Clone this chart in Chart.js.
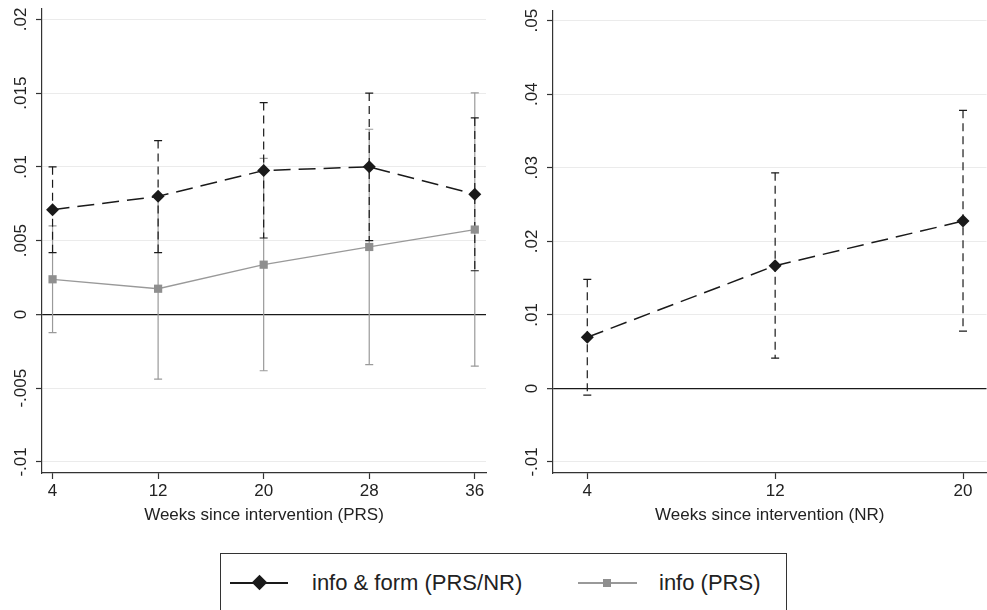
<!DOCTYPE html>
<html>
<head>
<meta charset="utf-8">
<script src="https://cdn.jsdelivr.net/npm/chart.js@4.4.0/dist/chart.umd.min.js"></script>
<style>
  body { margin: 0; background: #fff; font-family: "Liberation Sans", Arial, sans-serif; }
  #wrap { position: relative; width: 987px; height: 610px; overflow: hidden; }
  .panel { position: absolute; top: 0; height: 540px; }
  #legend { position: absolute; left: 220px; top: 553px; width: 565px; height: 70px; border: 1px solid #333; }
  .lg-line { position: absolute; height: 0; }
  .lg-text { position: absolute; font-size: 22px; color: #222; line-height: 22px; }
</style>
</head>
<body>
<div id="wrap">
  <div class="panel" style="left:0; width:495px;"><canvas id="prs"></canvas></div>
  <div class="panel" style="left:511px; width:482px;"><canvas id="nr"></canvas></div>
  <div id="legend">
    <div class="lg-line" style="left:9px; top:28px; width:58px; border-top:2px solid #1a1a1a;"></div>
    <div style="position:absolute; left:33px; top:23px; width:11px; height:11px; background:#1a1a1a; transform:rotate(45deg);"></div>
    <div class="lg-text" style="left:91px; top:18px;">info &amp; form (PRS/NR)</div>
    <div class="lg-line" style="left:357px; top:28px; width:59px; border-top:2px solid #999;"></div>
    <div style="position:absolute; left:382px; top:25px; width:8px; height:8px; background:#8f8f8f;"></div>
    <div class="lg-text" style="left:438px; top:18px;">info (PRS)</div>
  </div>
</div>
<script>
// left panel: weeks since intervention (PRS)
const weeksPRS = [4, 12, 20, 28, 36];
const infoForm = [0.0071, 0.0080, 0.00975, 0.0100, 0.00814];
const infoFormLo = [0.00419, 0.00419, 0.00518, 0.0050, 0.00296];
const infoFormHi = [0.0100, 0.01178, 0.01436, 0.0150, 0.01332];
const infoOnly = [0.00238, 0.00174, 0.00337, 0.00457, 0.00575];
const infoOnlyLo = [-0.00124, -0.00439, -0.00382, -0.0034, -0.00351];
const infoOnlyHi = [0.0060, 0.00787, 0.01057, 0.01255, 0.01502];
const yTicksPRS = [-0.01, -0.005, 0, 0.005, 0.01, 0.015, 0.02];
const yLabelsPRS = ['-.01', '-.005', '0', '.005', '.01', '.015', '.02'];

// right panel: weeks since intervention (NR)
const weeksNR = [4, 12, 20];
const nrInfoForm = [0.00696, 0.01669, 0.02275];
const nrInfoFormLo = [-0.00091, 0.00411, 0.00778];
const nrInfoFormHi = [0.01483, 0.02931, 0.03782];
const yTicksNR = [-0.01, 0, 0.01, 0.02, 0.03, 0.04, 0.05];
const yLabelsNR = ['-.01', '0', '.01', '.02', '.03', '.04', '.05'];

const BLACK = '#1a1a1a';
const GREY = '#8f8f8f';
const FONT = 'Liberation Sans, Arial, sans-serif';

// draws the confidence interval caps under the lines
const errorBars = {
    id: 'errorBars',
    beforeDatasetsDraw(chart) {
        const ctx = chart.ctx;
        const xs = chart.scales.x, ys = chart.scales.y;
        // grey bars first, black dashed ones on top
        const sets = chart.data.datasets.slice().sort((a, b) => a.order - b.order);
        sets.forEach(ds => {
            ctx.save();
            ctx.strokeStyle = ds.ciColor;
            ctx.lineWidth = 1.2;
            ds.data.forEach((p, i) => {
                const x = xs.getPixelForValue(p.x);
                const yLo = ys.getPixelForValue(ds.ciLo[i]);
                const yHi = ys.getPixelForValue(ds.ciHi[i]);
                ctx.setLineDash(ds.ciDash);
                ctx.beginPath();
                ctx.moveTo(x, yHi);
                ctx.lineTo(x, yLo);
                ctx.stroke();
                ctx.setLineDash([]);
                ctx.beginPath();
                ctx.moveTo(x - 4, yHi);
                ctx.lineTo(x + 4, yHi);
                ctx.moveTo(x - 4, yLo);
                ctx.lineTo(x + 4, yLo);
                ctx.stroke();
            });
            ctx.restore();
        });
    }
};

function buildChart(canvasId, opts) {
    const tickList = opts.yTicks.map(v => ({ value: v }));
    return new Chart(document.getElementById(canvasId), {
        type: 'line',
        data: { datasets: opts.datasets },
        options: {
            responsive: true,
            maintainAspectRatio: false,
            animation: false,
            layout: { padding: { top: 9, right: opts.padRight, left: 0, bottom: 0 } },
            plugins: { legend: { display: false }, tooltip: { enabled: false } },
            scales: {
                x: {
                    type: 'linear',
                    min: opts.xMin,
                    max: opts.xMax,
                    afterBuildTicks: s => { s.ticks = opts.xTicks.map(v => ({ value: v })); },
                    afterFit: s => { s.height = 67; },
                    ticks: {
                        color: '#222',
                        font: { family: FONT, size: 17 },
                        padding: 2,
                        maxRotation: 0,
                        callback: v => String(v)
                    },
                    grid: { drawOnChartArea: false, drawTicks: true, tickLength: 6, tickColor: '#333', tickWidth: 1.2 },
                    border: { display: true, color: '#333', width: 1.2 },
                    title: {
                        display: true,
                        text: opts.xTitle,
                        color: '#222',
                        font: { family: FONT, size: 17 },
                        padding: { top: 0, bottom: 14 }
                    }
                },
                y: {
                    type: 'linear',
                    min: opts.yMin,
                    max: opts.yMax,
                    afterBuildTicks: s => { s.ticks = tickList.slice(); },
                    afterFit: s => { s.width = 42; },
                    ticks: {
                        color: '#222',
                        font: { family: FONT, size: 17 },
                        minRotation: 90,
                        maxRotation: 90,
                        crossAlign: 'center',
                        padding: opts.yPad,
                        callback: v => opts.yLabels[opts.yTicks.indexOf(v)]
                    },
                    grid: {
                        color: c => (c.tick && c.tick.value === 0) ? BLACK : '#ebebeb',
                        lineWidth: c => (c.tick && c.tick.value === 0) ? 1.3 : 1,
                        drawTicks: true,
                        tickLength: 6,
                        tickColor: '#333',
                        tickWidth: 1.2
                    },
                    border: { display: true, color: '#333', width: 1.2 }
                }
            }
        },
        plugins: [errorBars]
    });
}

function pts(xs, ys) {
    return xs.map((x, i) => ({ x: x, y: ys[i] }));
}

function blackSeries(xs, ys, lo, hi) {
    return {
        label: 'info & form (PRS/NR)',
        data: pts(xs, ys),
        borderColor: BLACK,
        borderWidth: 1.5,
        borderDash: [17, 8],
        pointStyle: 'rectRot',
        pointRadius: 6.5,
        pointBackgroundColor: BLACK,
        pointBorderColor: BLACK,
        pointBorderWidth: 0,
        tension: 0,
        order: 1,
        ciLo: lo,
        ciHi: hi,
        ciColor: BLACK,
        ciDash: [8, 5]
    };
}

buildChart('prs', {
    xMin: 3.2, xMax: 36.85, xTicks: weeksPRS,
    yMin: -0.01075, yMax: 0.0207,
    yTicks: yTicksPRS, yLabels: yLabelsPRS,
    yPad: -4.5, padRight: 9,
    xTitle: 'Weeks since intervention (PRS)',
    datasets: [
        blackSeries(weeksPRS, infoForm, infoFormLo, infoFormHi),
        {
            label: 'info (PRS)',
            data: pts(weeksPRS, infoOnly),
            borderColor: '#999',
            borderWidth: 1.3,
            pointStyle: 'rect',
            pointRadius: 5.8,
            pointBackgroundColor: GREY,
            pointBorderColor: GREY,
            pointBorderWidth: 0,
            tension: 0,
            order: 0,
            ciLo: infoOnlyLo,
            ciHi: infoOnlyHi,
            ciColor: '#9a9a9a',
            ciDash: []
        }
    ]
});

buildChart('nr', {
    xMin: 2.54, xMax: 21.0, xTicks: weeksNR,
    yMin: -0.0115, yMax: 0.05136,
    yTicks: yTicksNR, yLabels: yLabelsNR,
    yPad: 0.5, padRight: 0,
    xTitle: 'Weeks since intervention (NR)',
    datasets: [
        blackSeries(weeksNR, nrInfoForm, nrInfoFormLo, nrInfoFormHi)
    ]
});
</script>
</body>
</html>
